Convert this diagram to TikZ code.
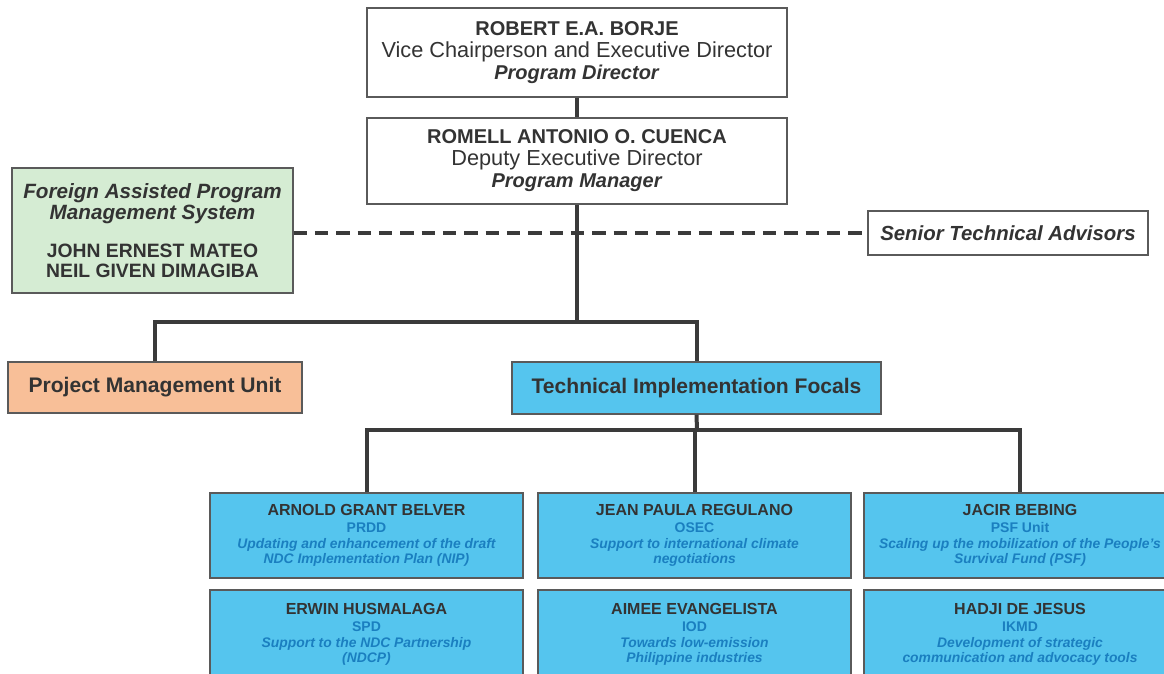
\documentclass[tikz,border=0pt]{standalone}
\usepackage{fontspec}
\setmainfont{Liberation Sans}
\definecolor{boxline}{HTML}{5A5A5A}
\definecolor{ink}{HTML}{333333}
\definecolor{focalfill}{HTML}{55C5EE}
\definecolor{focalblue}{HTML}{1A7FC0}
\definecolor{fapfill}{HTML}{D5ECD3}
\definecolor{pmufill}{HTML}{F8BF98}
\definecolor{linecol}{HTML}{3A3A3A}
\tikzset{
  box/.style={draw=boxline, line width=0.9pt, align=center, text=ink, inner sep=2pt},
  whitebox/.style={box, fill=white},
  focal/.style={box, fill=focalfill, minimum width=313*0.75pt, minimum height=85*0.75pt, font=\fontsize{12}{13}\selectfont},
  link/.style={draw=linecol, line width=3pt},
  dashlink/.style={draw=linecol, line width=3pt, dash pattern=on 10pt off 6pt},
}
\newcommand{\fsub}[1]{{\color{focalblue}\fontsize{10.5}{11}\selectfont\bfseries #1}}
\newcommand{\fdesc}[1]{{\color{focalblue}\fontsize{10.4}{10}\selectfont\bfseries\itshape #1}}
\begin{document}
\begin{tikzpicture}[x=0.75pt, y=-0.75pt]
\useasboundingbox (0,0) rectangle (1164,674);
\begin{scope}
\clip (0,0) rectangle (1164,674);
% leadership
\node[whitebox, minimum width=420*0.75pt, minimum height=89*0.75pt, font=\fontsize{15}{16.5}\selectfont] (dir) at (577,52.5)
  {\textbf{ROBERT E.A. BORJE}\\{\fontsize{16.3}{16.5}\selectfont Vice Chairperson and Executive Director}\\\textbf{\itshape Program Director}};
\node[whitebox, minimum width=420*0.75pt, minimum height=86*0.75pt, font=\fontsize{15}{16.5}\selectfont] (mgr) at (577,161)
  {\textbf{ROMELL ANTONIO O. CUENCA}\\{\fontsize{16.3}{16.5}\selectfont Deputy Executive Director}\\\textbf{\itshape Program Manager}};
% side units
\node[box, fill=fapfill, minimum width=281*0.75pt, minimum height=125*0.75pt, font=\fontsize{14.5}{16}\selectfont\bfseries] (fap) at (152.5,230.5)
  {{\fontsize{15.5}{16}\selectfont\itshape Foreign Assisted Program}\\{\fontsize{15.5}{16}\selectfont\itshape Management System}\\[12pt]JOHN ERNEST MATEO\\[-1pt]NEIL GIVEN DIMAGIBA};
\node[whitebox, minimum width=280*0.75pt, minimum height=44*0.75pt, font=\fontsize{15.3}{16}\selectfont\bfseries\itshape] (sta) at (1008,233)
  {Senior Technical Advisors};
% second level
\node[box, fill=pmufill, minimum width=294*0.75pt, minimum height=51*0.75pt, font=\fontsize{15.8}{17}\selectfont\bfseries] (pmu) at (155,387.5)
  {Project Management Unit};
\node[box, fill=focalfill, minimum width=369*0.75pt, minimum height=52*0.75pt, font=\fontsize{15.8}{17}\selectfont\bfseries] (tif) at (696.5,388)
  {Technical Implementation Focals};
% focal persons
\node[focal] (f1) at (366.5,535.5)
  {\textbf{ARNOLD GRANT BELVER}\\\fsub{PRDD}\\[-1pt]\fdesc{Updating and enhancement of the draft}\\[-2pt]\fdesc{NDC Implementation Plan (NIP)}};
\node[focal] (f2) at (694.5,535.5)
  {\textbf{JEAN PAULA REGULANO}\\\fsub{OSEC}\\[-1pt]\fdesc{Support to international climate}\\[-2pt]\fdesc{negotiations}};
\node[focal, minimum width=312*0.75pt] (f3) at (1020,535.5)
  {\textbf{JACIR BEBING}\\\fsub{PSF Unit}\\[-1pt]\fdesc{Scaling up the mobilization of the People's}\\[-2pt]\fdesc{Survival Fund (PSF)}};
\node[focal, minimum height=88*0.75pt] (f4) at (366.5,634)
  {\textbf{ERWIN HUSMALAGA}\\\fsub{SPD}\\[-1pt]\fdesc{Support to the NDC Partnership}\\[-2pt]\fdesc{(NDCP)}};
\node[focal, minimum height=88*0.75pt] (f5) at (694.5,634)
  {\textbf{AIMEE EVANGELISTA}\\\fsub{IOD}\\[-1pt]\fdesc{Towards low-emission}\\[-2pt]\fdesc{Philippine industries}};
\node[focal, minimum width=312*0.75pt, minimum height=88*0.75pt] (f6) at (1020,634)
  {\textbf{HADJI DE JESUS}\\\fsub{IKMD}\\[-1pt]\fdesc{Development of strategic}\\[-2pt]\fdesc{communication and advocacy tools}};
% connectors
\coordinate (j1) at (577,322);
\coordinate (j2) at (697,430);
\draw[link] (dir.south) -- (mgr.north);
\draw[link] (mgr.south) -- (j1);
\draw[dashlink] (fap.east |- sta.west) -- (sta.west);
\draw[link] (pmu.north) -- (pmu.north |- j1) -- (tif.north |- j1) -- (tif.north);
\draw[link] (tif.south) -- (j2);
\draw[link] (f1.north) -- (f1.north |- j2) -- (f3.north |- j2) -- (f3.north);
\draw[link] (f2.north |- j2) -- (f2.north);
\end{scope}
\end{tikzpicture}
\end{document}
